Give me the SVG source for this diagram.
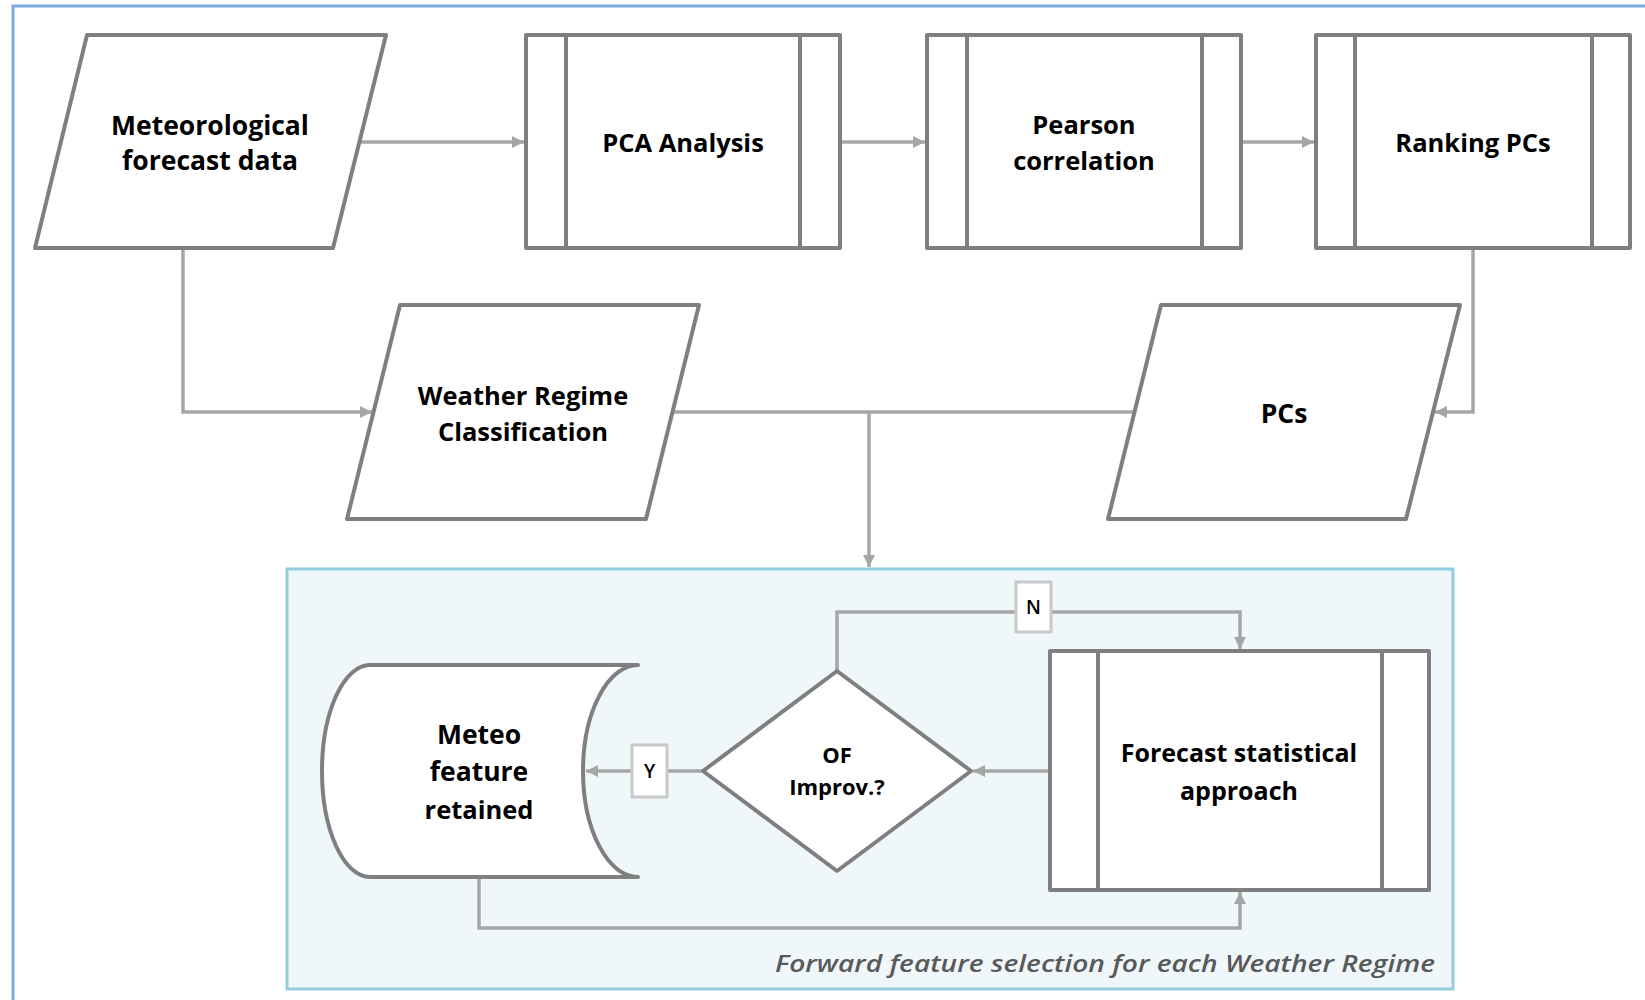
<svg xmlns="http://www.w3.org/2000/svg" width="1645" height="1000" viewBox="0 0 1645 1000">
<defs>
<marker id="arr" viewBox="0 0 12 12" refX="12" refY="6" markerWidth="12" markerHeight="12" markerUnits="userSpaceOnUse" orient="auto">
<path d="M0,0 L12,6 L0,12 Z" fill="#a6a6a6"/>
</marker>
</defs>
<style>
.node{fill:#fff;stroke:#7f7f7f;stroke-width:4;stroke-linejoin:round}
.inner{fill:none;stroke:#7f7f7f;stroke-width:4}
.conn{fill:none;stroke:#a6a6a6;stroke-width:3.5}
.lbl{font-family:"Open Sans","Liberation Sans",sans-serif;font-weight:700;font-size:26.5px;fill:#000;text-anchor:middle}
.mid{font-size:25.5px}
.small{font-size:22px}
.yn{fill:#fff;stroke:#c9c9c9;stroke-width:3}
.yntext{font-family:"Open Sans","Liberation Sans",sans-serif;font-weight:600;font-size:19px;fill:#000;text-anchor:middle}
.cap{font-family:"Open Sans","Liberation Sans",sans-serif;font-style:italic;font-weight:600;font-size:24px;fill:#595959;text-anchor:end}
</style>
<rect x="13" y="6" width="1700" height="1100" fill="none" stroke="#7aa9dd" stroke-width="3"/>
<g id="ffs-container">
<rect x="287" y="569" width="1166" height="420" fill="#f0f7fa" stroke="#93cde0" stroke-width="3"/>
<text class="cap" x="1435" y="972" textLength="660" lengthAdjust="spacingAndGlyphs">Forward feature selection for each Weather Regime</text>
</g>
<g id="connectors">
<path class="conn" d="M360,142 H524" marker-end="url(#arr)"/>
<path class="conn" d="M840,142 H925" marker-end="url(#arr)"/>
<path class="conn" d="M1241,142 H1314" marker-end="url(#arr)"/>
<path class="conn" d="M183,248 V412 H372" marker-end="url(#arr)"/>
<path class="conn" d="M672,412 H1135"/>
<path class="conn" d="M869,412 V567" marker-end="url(#arr)"/>
<path class="conn" d="M1473,248 V412 H1435" marker-end="url(#arr)"/>
<path class="conn" d="M703,771 H586" marker-end="url(#arr)"/>
<path class="conn" d="M837,671 V612 H1240 V649" marker-end="url(#arr)"/>
<path class="conn" d="M1050,771 H973" marker-end="url(#arr)"/>
<path class="conn" d="M479,877 V928 H1240 V892" marker-end="url(#arr)"/>
<g id="label-y">
<rect class="yn" x="632" y="745" width="35" height="52"/>
<text class="yntext" x="649.5" y="778">Y</text>
</g>
<g id="label-n">
<rect class="yn" x="1016" y="582" width="35" height="50"/>
<text class="yntext" x="1033.5" y="614">N</text>
</g>
</g>
<g id="meteo-data">
<polygon class="node" points="87,35 386,35 333,248 35,248"/>
<text class="lbl" x="210" y="135">Meteorological</text>
<text class="lbl" x="210" y="170">forecast data</text>
</g>
<g id="pca">
<rect class="node" x="526" y="35" width="314" height="213"/>
<line class="inner" x1="566" y1="35" x2="566" y2="248"/>
<line class="inner" x1="800" y1="35" x2="800" y2="248"/>
<text class="lbl mid" x="683" y="152">PCA Analysis</text>
</g>
<g id="pearson">
<rect class="node" x="927" y="35" width="314" height="213"/>
<line class="inner" x1="967" y1="35" x2="967" y2="248"/>
<line class="inner" x1="1202" y1="35" x2="1202" y2="248"/>
<text class="lbl mid" x="1084" y="134">Pearson</text>
<text class="lbl mid" x="1084" y="170">correlation</text>
</g>
<g id="ranking">
<rect class="node" x="1316" y="35" width="314" height="213"/>
<line class="inner" x1="1355" y1="35" x2="1355" y2="248"/>
<line class="inner" x1="1592" y1="35" x2="1592" y2="248"/>
<text class="lbl mid" x="1473" y="152">Ranking PCs</text>
</g>
<g id="weather-regime">
<polygon class="node" points="400,305 699,305 646,519 347,519"/>
<text class="lbl mid" x="523" y="405">Weather Regime</text>
<text class="lbl mid" x="523" y="441">Classification</text>
</g>
<g id="pcs">
<polygon class="node" points="1161,305 1460,305 1406,519 1108,519"/>
<text class="lbl" x="1284" y="423">PCs</text>
</g>
<g id="meteo-retained">
<path class="node" d="M370,665 H638 A55,106 0 0 0 638,877 H370 A48,106 0 0 1 370,665 Z"/>
<text class="lbl" x="479" y="744">Meteo</text>
<text class="lbl" x="479" y="781">feature</text>
<text class="lbl mid" x="479" y="819">retained</text>
</g>
<g id="of-improv">
<polygon class="node" points="837,671 971,771 837,871 703,771"/>
<text class="lbl small" x="837" y="763">OF</text>
<text class="lbl small" x="837" y="795">Improv.?</text>
</g>
<g id="forecast-approach">
<rect class="node" x="1050" y="651" width="379" height="239"/>
<line class="inner" x1="1098" y1="651" x2="1098" y2="890"/>
<line class="inner" x1="1382" y1="651" x2="1382" y2="890"/>
<text class="lbl" x="1239" y="762" style="font-size:25px">Forecast statistical</text>
<text class="lbl" x="1239" y="800" style="font-size:25px">approach</text>
</g>
</svg>
